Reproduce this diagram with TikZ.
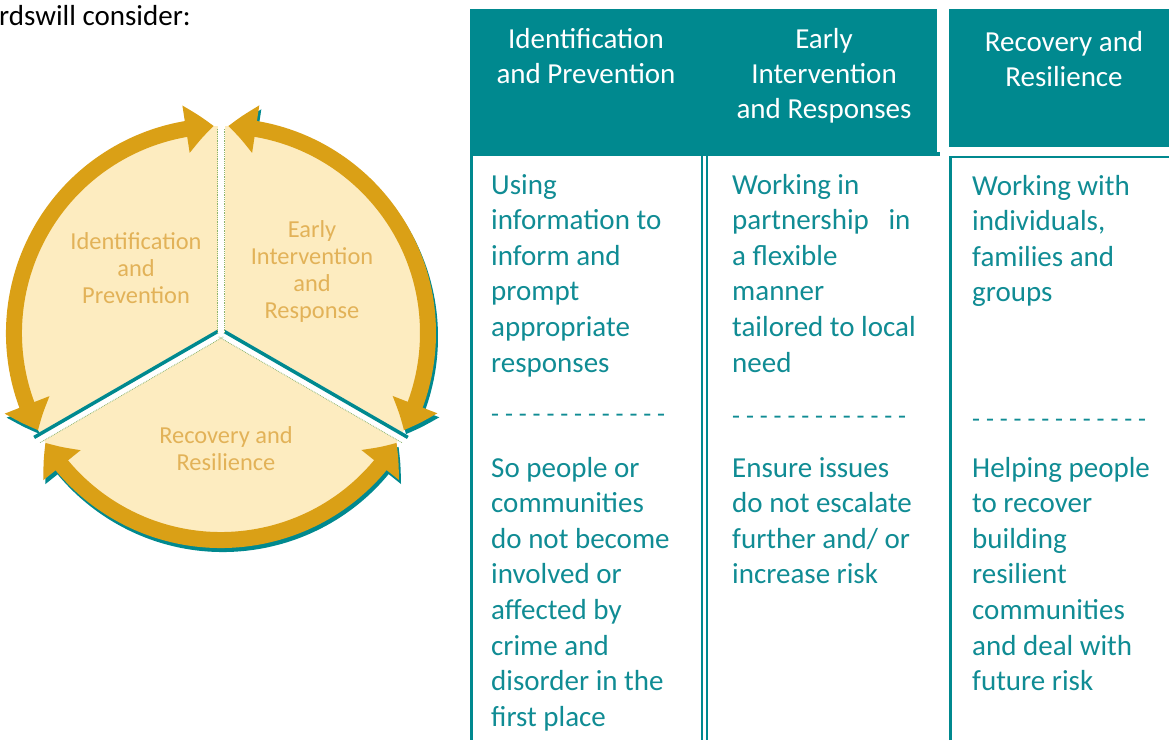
\documentclass[tikz,border=0pt]{standalone}
\usepackage{fontspec}
\setmainfont{Carlito}
\usetikzlibrary{arrows.meta, bending}
\definecolor{tealbox}{RGB}{0,137,143}
\definecolor{tealtext}{RGB}{16,140,148}
\definecolor{ringgold}{RGB}{218,160,22}
\definecolor{goldtext}{RGB}{226,178,88}
\definecolor{palefill}{RGB}{253,236,192}
\definecolor{dotgreen}{RGB}{140,180,110}
\newcommand{\tabfont}{\fontsize{29}{35.6}\selectfont}
\newcommand{\dashfont}{\fontsize{26}{30}\selectfont}
\newcommand{\headfont}{\fontsize{29}{34.8}\selectfont}
\newcommand{\ringfont}{\fontsize{24.4}{27}\selectfont}
\tikzset{
  ringarrow/.style={ringgold, line width=16pt,
    {Triangle[length=28pt,width=46pt,bend]}-{Triangle[length=28pt,width=46pt,bend]}},
  ringshadow/.style={ringarrow, tealbox},
  spoke/.style={white, line width=9pt},
  spokeshadow/.style={tealbox, line width=3.5pt},
  spokedots/.style={dotgreen, line width=0.8pt, densely dotted},
  ringlabel/.style={goldtext, font=\ringfont, align=center, anchor=base, inner sep=0pt},
  headbox/.style={fill=tealbox, draw=none},
  headlabel/.style={white, font=\headfont, align=center, anchor=base, inner sep=0pt},
  celltext/.style={tealtext, font=\tabfont, align=left, anchor=base west, inner sep=0pt},
  colline/.style={tealbox, line width=2pt}
}
\begin{document}
\begin{tikzpicture}[x=1pt, y=-1pt]
	\useasboundingbox (0,0) rectangle (1169,740);

	\node[anchor=base west, inner sep=0pt, font=\tabfont] (intro) at (-1,25) {rdswill consider:};

	\begin{scope}[shift={(221,333)}, yscale=-1]
		\foreach \a/\b in {208/92, 88/-28, -32/-148}
			\draw[ringshadow, shift={(2,-4)}] (\a:207) arc[start angle=\a, end angle=\b, radius=207];
		\fill[palefill] (0,0) circle[radius=207];

		\draw[spoke] (0,0) -- (210:216);
		\draw[spoke] (0,0) -- (330:216);
		\draw[spokeshadow, shift={(120:3)}] (0,0) -- (210:214);
		\draw[spokeshadow, shift={(60:3)}] (0,0) -- (330:214);
		\draw[spoke, line width=7pt] (0,0) -- (90:216);
		\draw[spokedots, shift={(300:4.5)}] (0,0) -- (210:212);
		\draw[spokedots, shift={(240:4.5)}] (0,0) -- (330:212);
		\draw[spokedots, shift={(0:3.6)}] (0,0) -- (90:205);
		\draw[spokedots, shift={(180:3.6)}] (0,0) -- (90:205);

		\foreach \a/\b in {208/92, 88/-28, -32/-148}
			\draw[ringarrow] (\a:207) arc[start angle=\a, end angle=\b, radius=207];
	\end{scope}

	% base anchor of a multi-line node sits on its last line
	\node[ringlabel] (ringident) at (136,303) {Identification\\and\\Prevention};
	\node[ringlabel] (ringearly) at (312,318) {Early\\Intervention\\and\\Response};
	\node[ringlabel] (ringrecov) at (226,470) {Recovery and\\Resilience};

	\fill[headbox] (470,9) rectangle (937,156);
	\fill[headbox] (937,152) rectangle (940,156);
	\fill[headbox] (949,9) rectangle (1169,147);

	\node[headlabel] (headident) at (586,83) {Identification\\and Prevention};
	\node[headlabel] (headearly) at (824,118.5) {Early\\Intervention\\and Responses};
	\node[headlabel] (headrecov) at (1064,86) {Recovery and\\Resilience};

	\draw[colline, line width=3pt] (471,156) -- (471,740);
	\draw[colline] (702,156) -- (702,740);
	\draw[colline] (706.5,156) -- (706.5,740);
	\draw[colline, line width=2.5pt] (950.5,740) -- (950.5,157) -- (1169,157);

	\node[celltext] (identtop) at (491,372) {Using\\information to\\inform and\\prompt\\appropriate\\responses};
	\node[celltext, font=\dashfont] (identdash) at (491,422) {- - - - - - - - - - - - -};
	\node[celltext] (identbot) at (491,726.2) {So people or\\communities\\do not become\\involved or\\affected by\\crime and\\disorder in the\\first place};

	\node[celltext] (earlytop) at (732,372) {Working in\\partnership\ \ \ in\\a flexible\\manner\\tailored to local\\need};
	\node[celltext, font=\dashfont] (earlydash) at (732,424) {- - - - - - - - - - - - -};
	\node[celltext] (earlybot) at (732,583.8) {Ensure issues\\do not escalate\\further and/ or\\increase risk};

	\node[celltext] (recovtop) at (972,301.8) {Working with\\individuals,\\families and\\groups};
	\node[celltext, font=\dashfont] (recovdash) at (972,427) {- - - - - - - - - - - - -};
	\node[celltext] (recovbot) at (972,690.6) {Helping people\\to recover\\building\\resilient\\communities\\and deal with\\future risk};
\end{tikzpicture}
\end{document}
